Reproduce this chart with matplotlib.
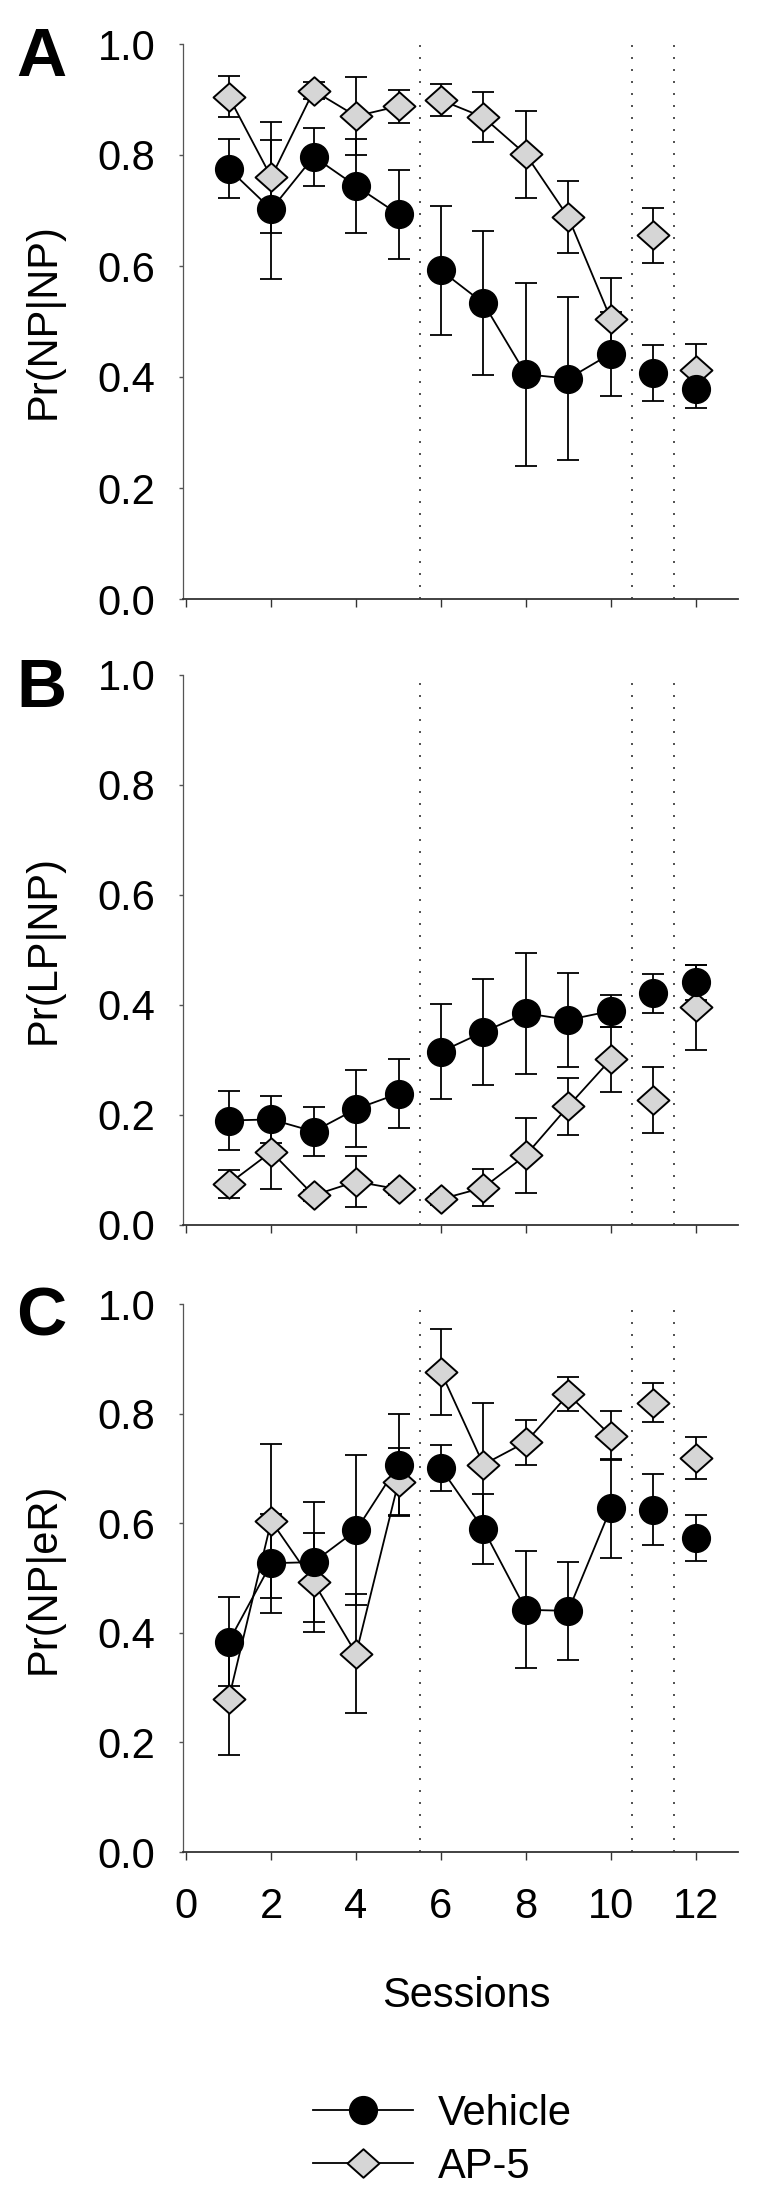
import matplotlib
matplotlib.use("Agg")
import matplotlib.pyplot as plt
from matplotlib.path import Path
import numpy as np

plt.rcParams['font.family'] = ['Liberation Sans', 'DejaVu Sans']

sessions = [1, 2, 3, 4, 5, 6, 7, 8, 9, 10, 11, 12]
segments = [(1, 5), (6, 10), (11, 11), (12, 12)]
phase_bounds = [5.5, 10.5, 11.5]

# Panel A: Pr(NP|NP)
a_veh = [0.775, 0.702, 0.797, 0.744, 0.693, 0.592, 0.533, 0.405, 0.397, 0.442, 0.407, 0.379]
a_veh_err = [0.053, 0.125, 0.052, 0.085, 0.080, 0.116, 0.130, 0.165, 0.147, 0.076, 0.051, 0.034]
a_ap5 = [0.905, 0.760, 0.916, 0.870, 0.888, 0.899, 0.868, 0.801, 0.688, 0.505, 0.655, 0.413]
a_ap5_err = [0.037, 0.100, 0.015, 0.070, 0.030, 0.029, 0.045, 0.078, 0.065, 0.074, 0.050, 0.047]

# Panel B: Pr(LP|NP)
b_veh = [0.190, 0.192, 0.170, 0.211, 0.239, 0.315, 0.351, 0.385, 0.373, 0.389, 0.421, 0.441]
b_veh_err = [0.054, 0.042, 0.045, 0.070, 0.062, 0.086, 0.097, 0.110, 0.085, 0.029, 0.035, 0.032]
b_ap5 = [0.075, 0.133, 0.054, 0.079, 0.065, 0.047, 0.068, 0.127, 0.216, 0.301, 0.228, 0.396]
b_ap5_err = [0.025, 0.068, 0.010, 0.046, 0.010, 0.010, 0.034, 0.068, 0.052, 0.059, 0.060, 0.077]

# Panel C: Pr(NP|eR)
c_veh = [0.384, 0.527, 0.529, 0.587, 0.707, 0.700, 0.589, 0.442, 0.440, 0.627, 0.625, 0.573]
c_veh_err = [0.081, 0.090, 0.110, 0.137, 0.093, 0.042, 0.064, 0.107, 0.090, 0.091, 0.065, 0.042]
c_ap5 = [0.280, 0.604, 0.492, 0.362, 0.676, 0.876, 0.707, 0.748, 0.835, 0.760, 0.820, 0.719]
c_ap5_err = [0.103, 0.140, 0.090, 0.109, 0.061, 0.078, 0.113, 0.041, 0.031, 0.045, 0.036, 0.039]

panel_letters = ['A', 'B', 'C']
ylabels = ['Pr(NP|NP)', 'Pr(LP|NP)', 'Pr(NP|eR)']
xticks = [0, 2, 4, 6, 8, 10, 12]
yticks = [0.0, 0.2, 0.4, 0.6, 0.8, 1.0]
series_names = ['Vehicle', 'AP-5']
xlabel = 'Sessions'

data = [(a_veh, a_veh_err, a_ap5, a_ap5_err),
        (b_veh, b_veh_err, b_ap5, b_ap5_err),
        (c_veh, c_veh_err, c_ap5, c_ap5_err)]

W, H = 759, 2202
fig = plt.figure(figsize=(W / 100, H / 100), dpi=100)

diamond = Path([(-1.12, 0), (0, 1), (1.12, 0), (0, -1), (-1.12, 0)],
               [Path.MOVETO, Path.LINETO, Path.LINETO, Path.LINETO, Path.CLOSEPOLY])

ax_left, ax_right = 183, 738
panels_px = [(44, 599), (675, 1225), (1304, 1852)]
ap5_face = '#d6d6d6'
FS = 30

x = np.array(sessions)
handles = None
for i, ((top, bot), (veh, veh_err, ap5, ap5_err)) in enumerate(zip(panels_px, data)):
    ax = fig.add_axes([ax_left / W, 1 - bot / H, (ax_right - ax_left) / W, (bot - top) / H])
    ax.set_xlim(-0.08, 13)
    ax.set_ylim(0, 1.0)
    for s in ['top', 'right']:
        ax.spines[s].set_visible(False)
    ax.spines['left'].set_color('#555555')
    ax.spines['left'].set_linewidth(0.9)
    ax.spines['bottom'].set_color('#333333')
    ax.spines['bottom'].set_linewidth(1.3)

    for xb in phase_bounds:
        ax.axvline(xb, ymin=0, ymax=1, color='#333333', lw=1.2,
                   linestyle=(0, (1.2, 6)), zorder=1)

    veh = np.array(veh); ap5 = np.array(ap5)
    # error bars
    ax.errorbar(x, veh, yerr=veh_err, fmt='none', ecolor='black', elinewidth=1.3,
                capsize=8, capthick=1.3, zorder=2)
    ax.errorbar(x, ap5, yerr=ap5_err, fmt='none', ecolor='black', elinewidth=1.3,
                capsize=8, capthick=1.3, zorder=2)
    # connecting lines within phases
    for (s0, s1) in segments:
        m = (x >= s0) & (x <= s1)
        if m.sum() > 1:
            ax.plot(x[m], veh[m], color='black', lw=1.3, zorder=3)
            ax.plot(x[m], ap5[m], color='black', lw=1.3, zorder=3)
    h_ap5, = ax.plot(x, ap5, linestyle='none', marker=diamond, ms=23,
                     mfc=ap5_face, mec='black', mew=1.4, zorder=4, clip_on=False)
    h_veh, = ax.plot(x, veh, linestyle='none', marker='o', ms=20,
                     mfc='black', mec='black', zorder=5, clip_on=False)

    ax.set_xticks(xticks)
    ax.set_yticks(yticks)
    ax.set_yticklabels([f'{v:.1f}' for v in yticks])
    ax.tick_params(axis='y', direction='out', length=3, width=1, color='#555555',
                   labelsize=FS, pad=17)
    ax.tick_params(axis='x', direction='out', length=6, width=1, color='#333333',
                   labelsize=FS, pad=19)
    if i < 2:
        ax.set_xticklabels([])
    ax.patch.set_visible(False)

    cy = 1 - (top + bot) / 2 / H
    fig.text(44 / W, cy, ylabels[i], rotation=90, ha='center', va='center', fontsize=FS)
    fig.text(41 / W, 1 - (top + 14) / H, panel_letters[i], ha='center', va='center',
             fontsize=50, fontweight='bold')

fig.text(466 / W, 1 - 1996 / H, xlabel, ha='center', va='center', fontsize=FS)

# legend
from matplotlib.lines import Line2D
leg_handles = [
    Line2D([0], [0], color='black', lw=1.3, marker='o', ms=20, mfc='black', mec='black'),
    Line2D([0], [0], color='black', lw=1.3, marker=diamond, ms=23, mfc=ap5_face,
           mec='black', mew=1.4),
]
fig.legend(leg_handles, series_names, loc='upper left',
           bbox_to_anchor=(313 / W, 1 - 2094 / H), frameon=False, fontsize=FS,
           handlelength=2.4, handletextpad=0.6, labelspacing=0.3, borderpad=0,
           borderaxespad=0, numpoints=1)

fig.savefig('out.png', dpi=100)
